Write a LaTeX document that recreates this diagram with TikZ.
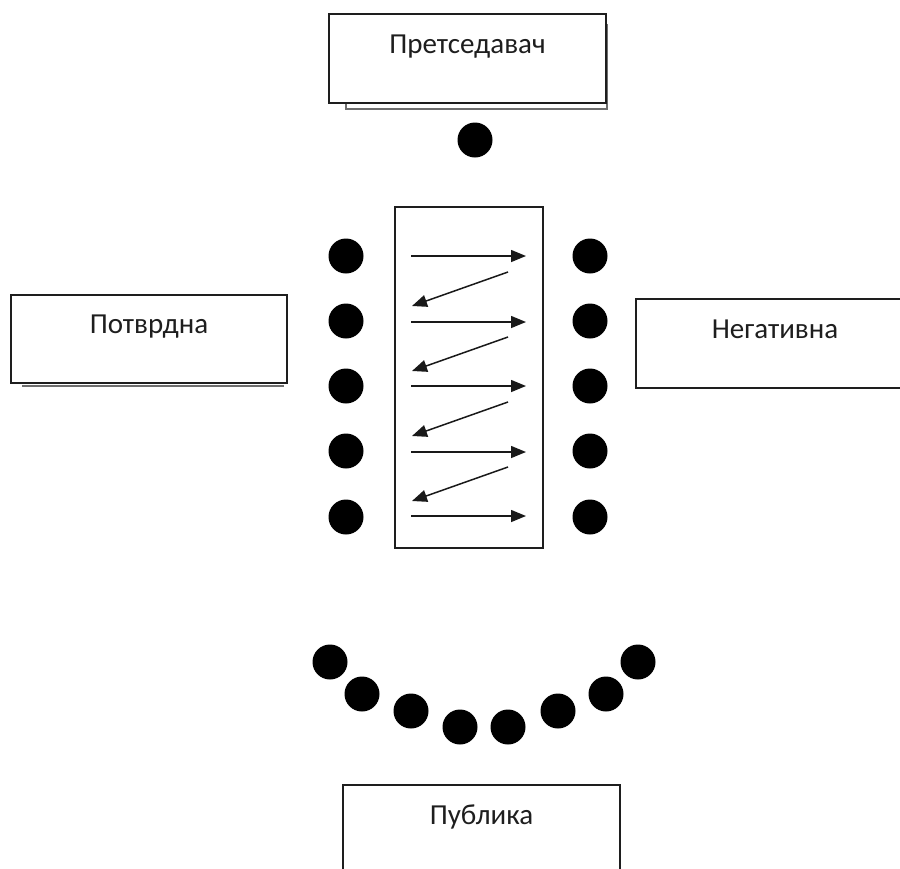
\documentclass[tikz,border=0pt]{standalone}
\usepackage{fontspec}
\setmainfont{Carlito}
\usetikzlibrary{arrows.meta}
\definecolor{inkgray}{HTML}{1E1E1E}
\definecolor{shadegray}{HTML}{6E6E6E}

\begin{document}
\begin{tikzpicture}[x=1pt,y=-1pt,
                       seat/.style={circle,fill=black,inner sep=0pt,
                                    minimum size=35pt},
                       room/.style={rectangle,draw=inkgray,line width=1.5pt,
                                    fill=white,inner sep=0pt,
                                    minimum width=277pt,minimum height=89pt,
                                    text=inkgray,font=\fontsize{29}{34}\selectfont,
                                    text height=20pt,text depth=31pt},
                       turn/.style={-{Triangle[length=15pt,width=12pt]},
                                    line width=1.5pt,draw=black!90}
                           ]
   \useasboundingbox (0,0) rectangle (900,868);
   % roles
   \draw[shadegray,line width=1.5pt] (346,25) rectangle (607,109);
   \node[room] (chair) at (467.5,58.5) {Претседавач};
   \draw[shadegray,line width=2pt] (22,386) -- (284,386);
   \node[room,minimum width=276pt,minimum height=88pt] (pro) at (149,339) {Потврдна};
   \node[room,minimum width=278pt] (con) at (775,343.5) {Негативна};
   \node[room] (public) at (481.5,829.5) {Публика};
   % table
   \node[draw=inkgray,line width=1.5pt,minimum width=148pt,minimum height=341pt,
         inner sep=0pt] (desk) at (469,377.5) {};
   % seats
   \node[seat] (c0) at (475,140) {};
   \node[seat] (p1) at (346,256) {};
   \node[seat] (p2) at (346,321) {};
   \node[seat] (p3) at (346,386) {};
   \node[seat] (p4) at (346,451) {};
   \node[seat] (p5) at (346,517) {};
   \node[seat] (n1) at (590,256) {};
   \node[seat] (n2) at (590,321) {};
   \node[seat] (n3) at (590,386) {};
   \node[seat] (n4) at (590,451) {};
   \node[seat] (n5) at (590,517) {};
   \node[seat] (u1) at (330,662) {};
   \node[seat] (u2) at (362,694) {};
   \node[seat] (u3) at (411,711) {};
   \node[seat] (u4) at (460,727) {};
   \node[seat] (u5) at (508,727) {};
   \node[seat] (u6) at (558,711) {};
   \node[seat] (u7) at (606,694) {};
   \node[seat] (u8) at (638,662) {};
   % speaking order
   \coordinate (s1) at (411,256); \coordinate (e1) at (526,256);
   \coordinate (s2) at (508,272); \coordinate (e2) at (412,306);
   \coordinate (s3) at (411,322); \coordinate (e3) at (526,322);
   \coordinate (s4) at (508,337); \coordinate (e4) at (412,371);
   \coordinate (s5) at (411,386); \coordinate (e5) at (526,386);
   \coordinate (s6) at (508,402); \coordinate (e6) at (412,436);
   \coordinate (s7) at (411,452); \coordinate (e7) at (526,452);
   \coordinate (s8) at (508,467); \coordinate (e8) at (412,501);
   \coordinate (s9) at (411,516); \coordinate (e9) at (526,516);
      \path%
    (s1) edge [turn] (e1)
    (s2) edge [turn] (e2)
    (s3) edge [turn] (e3)
    (s4) edge [turn] (e4)
    (s5) edge [turn] (e5)
    (s6) edge [turn] (e6)
    (s7) edge [turn] (e7)
    (s8) edge [turn] (e8)
    (s9) edge [turn] (e9);
      \end{tikzpicture}
\end{document}
